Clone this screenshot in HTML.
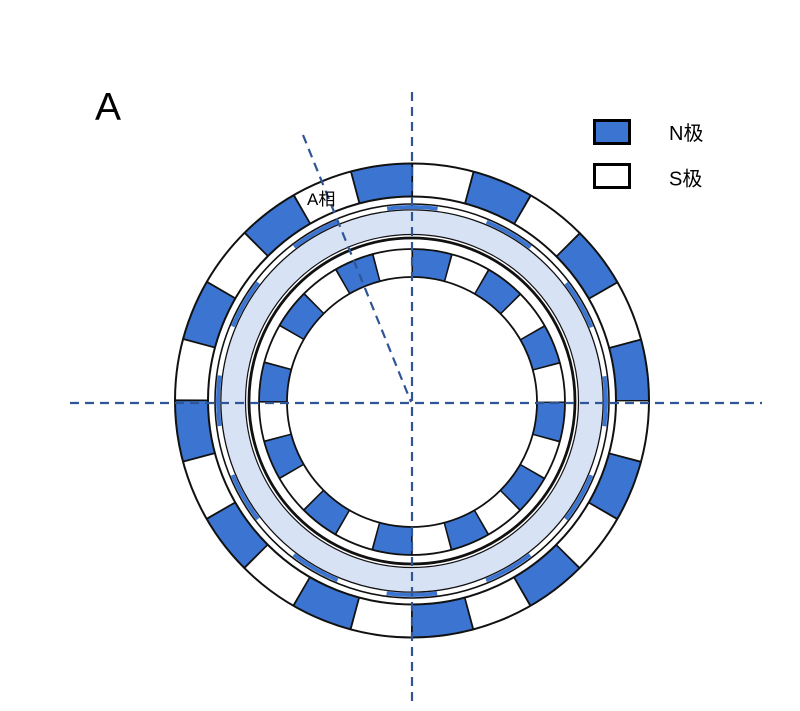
<!DOCTYPE html>
<html>
<head>
<meta charset="utf-8">
<style>
  html, body { margin:0; padding:0; background:#fff; }
  body { width:800px; height:711px; overflow:hidden; }
  svg { display:block; }
  text { font-family: "Liberation Sans", "Noto Sans CJK SC", sans-serif; fill:#000; }
</style>
</head>
<body>
<svg width="800" height="711" viewBox="0 0 800 711" xmlns="http://www.w3.org/2000/svg">
  <rect width="800" height="711" fill="#fff"/>

  <!-- Outer magnet ring (r 204-237), 24 segments -->
  <g transform="translate(412,400.5)">
    <circle r="220.5" fill="none" stroke="#fff" stroke-width="33"/>
    <circle r="220.5" fill="none" stroke="#3b75d1" stroke-width="33" stroke-dasharray="57.727 57.727" stroke-dashoffset="57.727"/>
    <circle r="220.5" fill="none" stroke="#111" stroke-width="33" stroke-dasharray="1.8 55.927" stroke-dashoffset="0.9"/>
    <circle r="237" fill="none" stroke="#111" stroke-width="2"/>
    <circle r="204" fill="none" stroke="#111" stroke-width="2"/>
  </g>

  <!-- Coil ring -->
  <g transform="translate(412,401)">
    <circle r="194" fill="none" stroke="#3b75d1" stroke-width="4" stroke-dasharray="50.79 50.79" stroke-dashoffset="25.4"/>
    <circle r="197" fill="none" stroke="#111" stroke-width="1.6"/>
    <circle r="191" fill="none" stroke="#111" stroke-width="1.6"/>
    <!-- light blue band -->
    <circle r="178.5" fill="none" stroke="#d8e2f5" stroke-width="24"/>
    <circle r="166.5" fill="none" stroke="#111" stroke-width="1.2"/>
    <circle r="163" fill="none" stroke="#111" stroke-width="2.8"/>
  </g>

  <!-- Inner magnet ring (r 125-153), 24 segments -->
  <g transform="translate(412,402)">
    <circle r="139" fill="none" stroke="#fff" stroke-width="28"/>
    <circle r="139" fill="none" stroke="#3b75d1" stroke-width="28" stroke-dasharray="36.39 36.39" stroke-dashoffset="0"/>
    <circle r="139" fill="none" stroke="#111" stroke-width="28" stroke-dasharray="1.6 34.79" stroke-dashoffset="0.8"/>
    <circle r="153" fill="none" stroke="#111" stroke-width="1.8"/>
    <circle r="125" fill="none" stroke="#111" stroke-width="1.8"/>
  </g>

  <!-- Dashed axes -->
  <g stroke="#2f5597" stroke-width="2.2" stroke-dasharray="9 6" fill="none">
    <line x1="412" y1="92" x2="412" y2="706"/>
    <line x1="70" y1="403" x2="762" y2="403"/>
    <line x1="303" y1="135" x2="411" y2="402"/>
  </g>

  <!-- Labels -->
  <text x="95" y="120" font-size="39">A</text>
  <text x="307" y="205" font-size="17">A相</text>

  <!-- Legend -->
  <rect x="594.5" y="120.5" width="35" height="23" fill="#3b75d1" stroke="#000" stroke-width="3"/>
  <rect x="594.5" y="164.5" width="35" height="23" fill="#fff" stroke="#000" stroke-width="3"/>
  <text x="669" y="140" font-size="20">N极</text>
  <text x="669" y="185.5" font-size="20">S极</text>
</svg>
</body>
</html>
